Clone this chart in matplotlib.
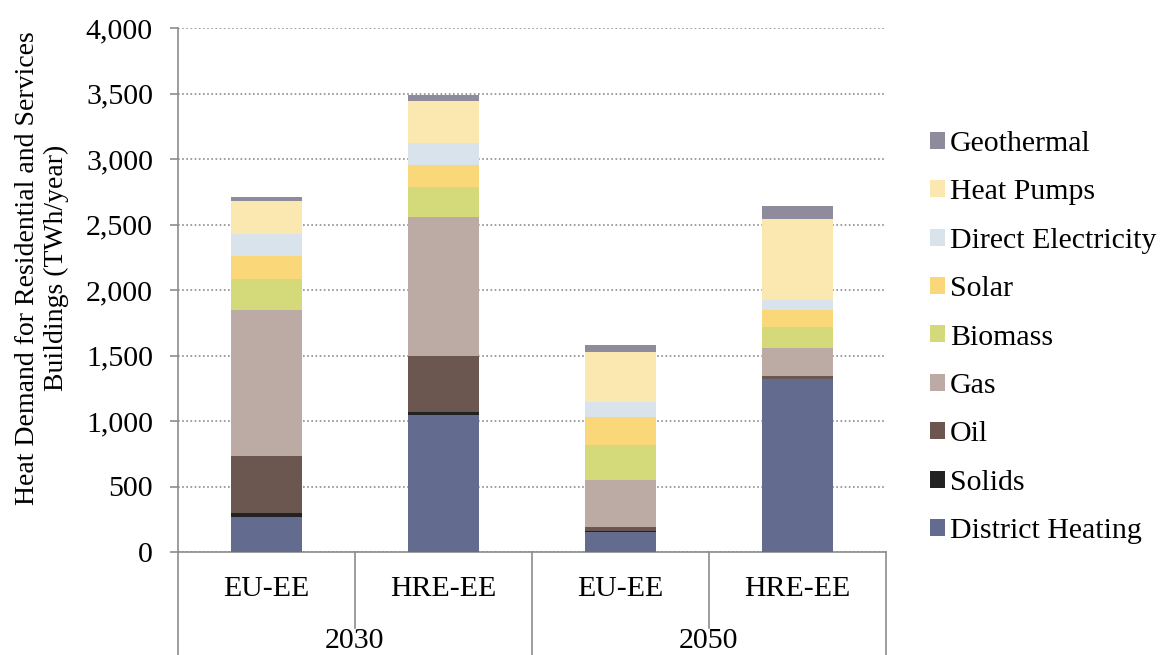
import numpy as np
import matplotlib.pyplot as plt
from matplotlib.lines import Line2D
from matplotlib.patches import Patch
import matplotlib.transforms as mtransforms

# datos (TWh/year)
escenarios = ['EU-EE', 'HRE-EE', 'EU-EE', 'HRE-EE']
anios = ['2030', '2050']

district_heating = [270, 1045, 155, 1320]
solids = [25, 25, 3, 3]
oil = [440, 425, 35, 22]
gas = [1115, 1065, 355, 215]
biomass = [235, 225, 270, 160]
solar = [175, 170, 210, 130]
direct_elec = [170, 165, 120, 75]
heat_pumps = [250, 320, 375, 615]
geothermal = [30, 45, 55, 100]

series = [('District Heating', district_heating, '#636b8e'),
          ('Solids', solids, '#222222'),
          ('Oil', oil, '#6b574f'),
          ('Gas', gas, '#bcaba4'),
          ('Biomass', biomass, '#d4d97a'),
          ('Solar', solar, '#fad87a'),
          ('Direct Electricity', direct_elec, '#d8e3ec'),
          ('Heat Pumps', heat_pumps, '#fbe8b0'),
          ('Geothermal', geothermal, '#8e8b9d')]

plt.rcParams['font.family'] = 'Liberation Serif'
fs = 21.5

fig = plt.figure(figsize=(11.63, 6.55), dpi=100)
ax = fig.add_axes([178/1163, 103/655, 708/1163, 524/655])

x = np.arange(len(escenarios)) + 0.5
bottom = np.zeros(len(escenarios))
for nombre, vals, col in series:
    ax.bar(x, vals, 0.4, bottom=bottom, color=col, label=nombre, zorder=3)
    bottom += np.array(vals)

ax.set_xlim(0, 4)
ax.set_ylim(0, 4000)
ax.set_yticks(np.arange(0, 4001, 500))
ax.set_yticklabels(['{:,}'.format(v) for v in range(0, 4001, 500)], fontsize=fs)
ax.yaxis.grid(True, linestyle=(0, (1, 1.5)), color='#8c8c8c', linewidth=1.2, zorder=0)
ax.set_xticks([])
ax.tick_params(axis='y', color='#8c8c8c', length=6, width=1.2, pad=12)
for s in ['top', 'right']:
    ax.spines[s].set_visible(False)
for s in ['left', 'bottom']:
    ax.spines[s].set_color('#8c8c8c')
    ax.spines[s].set_linewidth(1.2)

# titulo eje y
fig.text(42/1163, 1 - 268/655,
         'Heat Demand for Residential and Services\nBuildings (TWh/year)',
         rotation=90, ha='center', va='center', fontsize=20, linespacing=1.25,
         multialignment='center')

# etiquetas de dos niveles en el eje x
trans = mtransforms.blended_transform_factory(ax.transData, fig.transFigure)
for xi, esc in zip(x, escenarios):
    ax.text(xi, 1 - 589/655, esc, transform=trans, ha='center', va='center', fontsize=fs)
for i, an in enumerate(anios):
    ax.text(1 + 2*i, 1 - 641/655, an, transform=trans, ha='center', va='center', fontsize=fs)

y_ax = 103/655
for xs, y_end in [(0, 0), (1, 1 - 628/655), (2, 0), (3, 1 - 628/655), (4, 0)]:
    ax.add_line(Line2D([xs, xs], [y_ax, y_end], transform=trans, color='#8c8c8c',
                       linewidth=1.2, clip_on=False))

handles = [Patch(facecolor=c, label=n) for n, v, c in series][::-1]
fig.legend(handles=handles, loc='upper left', bbox_to_anchor=(918/1163, 1 - 119/655),
           frameon=False, fontsize=fs, handlelength=0.5, handleheight=0.5,
           handletextpad=0.17, labelspacing=0.75, borderaxespad=0)

plt.savefig('out.png', dpi=100)
